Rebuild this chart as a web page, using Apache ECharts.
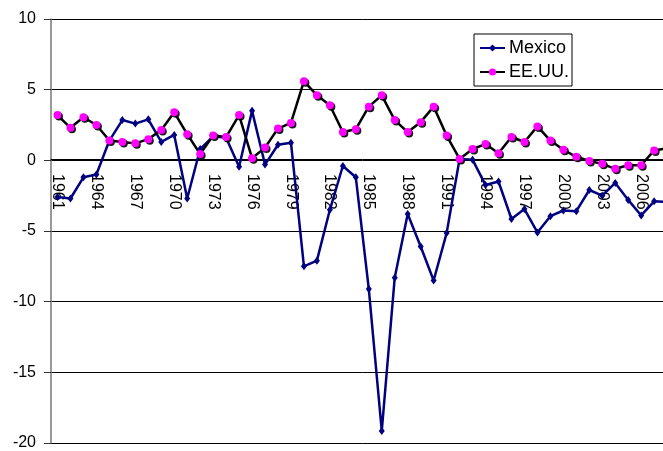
<!DOCTYPE html>
<html>
<head>
<meta charset="utf-8">
<title>Mexico / EE.UU.</title>
<script src="https://cdn.jsdelivr.net/npm/echarts@6/dist/echarts.min.js"></script>
<style>
  html, body { margin: 0; padding: 0; overflow: hidden; background: #fff; }
  /* plot runs past the right edge like the original */
  #main { width: 700px; height: 451px; }
</style>
</head>
<body>
<div id="main"></div>
<script>
var years = [];
for (var y = 1961; y <= 2008; y++) years.push(String(y));

var mexico = [-2.6, -2.7, -1.2, -1.0, 1.4, 2.85, 2.6, 2.9, 1.3, 1.8,
  -2.7, 0.8, 1.7, 1.6, -0.45, 3.5, -0.3, 1.1, 1.25, -7.5,
  -7.1, -3.5, -0.4, -1.2, -9.1, -19.15, -8.3, -3.8, -6.1, -8.5,
  -5.15, 0.1, 0.05, -1.75, -1.5, -4.15, -3.45, -5.1, -3.95, -3.55,
  -3.6, -2.1, -2.5, -1.6, -2.8, -3.9, -2.9, -2.95];

var eeuu = [3.2, 2.3, 3.05, 2.5, 1.4, 1.3, 1.2, 1.5, 2.15, 3.4,
  1.85, 0.45, 1.75, 1.65, 3.2, 0.15, 0.9, 2.25, 2.65, 5.6,
  4.6, 3.9, 2.0, 2.2, 3.8, 4.6, 2.85, 2.0, 2.7, 3.8,
  1.75, 0.1, 0.8, 1.15, 0.5, 1.65, 1.3, 2.4, 1.4, 0.75,
  0.25, -0.05, -0.25, -0.6, -0.35, -0.35, 0.7, 0.85];

var font = 'Liberation Sans, Arial, sans-serif';
var yMin = -20, yMax = 10;
var gridTop = 19, gridH = 426;
// move the category axis up to the zero line
var zeroOffset = -gridH * (0 - yMin) / (yMax - yMin);

var chart = echarts.init(document.getElementById('main'));
chart.setOption({
  animation: false,
  grid: { left: 51, top: gridTop, width: 622.6, height: gridH },
  legend: {
    left: 474, top: 34,
    orient: 'vertical',
    padding: [5, 3, 5, 5],
    itemGap: 6,
    itemWidth: 25, itemHeight: 9,
    borderColor: '#000', borderWidth: 1,
    textStyle: { fontFamily: font, fontSize: 18, color: '#000', padding: [0, 0, 0, -1] },
    data: ['Mexico', 'EE.UU.']
  },
  xAxis: {
    type: 'category',
    data: years,
    boundaryGap: true,
    position: 'bottom',
    offset: zeroOffset,
    axisLine: { onZero: false, lineStyle: { color: '#000', width: 1 } },
    axisTick: { interval: 0, length: 5, lineStyle: { color: '#333' } },
    axisLabel: {
      interval: 2, rotate: -90, margin: 15,
      fontFamily: font, fontSize: 16, color: '#000'
    },
    splitLine: { show: false }
  },
  yAxis: {
    type: 'value',
    min: yMin, max: yMax, interval: 5,
    axisLine: { show: true, lineStyle: { color: '#777', width: 1.5 } },
    axisTick: { show: true, length: 7, lineStyle: { color: '#333' } },
    axisLabel: { margin: 15, fontFamily: font, fontSize: 16, color: '#000' },
    splitLine: { lineStyle: { color: '#000', width: 1 } }
  },
  series: [
    {
      name: 'Mexico',
      type: 'line',
      data: mexico,
      symbol: 'diamond',
      symbolSize: [6, 8],
      lineStyle: { color: '#000080', width: 2.5 },
      itemStyle: { color: '#000080' }
    },
    {
      name: 'EE.UU.',
      type: 'line',
      data: eeuu,
      symbol: 'circle',
      symbolSize: 8,
      lineStyle: { color: '#000', width: 2.5 },
      itemStyle: {
        color: '#ff00ff',
        shadowColor: 'rgba(0,0,0,0.9)', shadowBlur: 0,
        shadowOffsetX: 1.5, shadowOffsetY: 1.5
      }
    }
  ]
});
</script>
</body>
</html>
